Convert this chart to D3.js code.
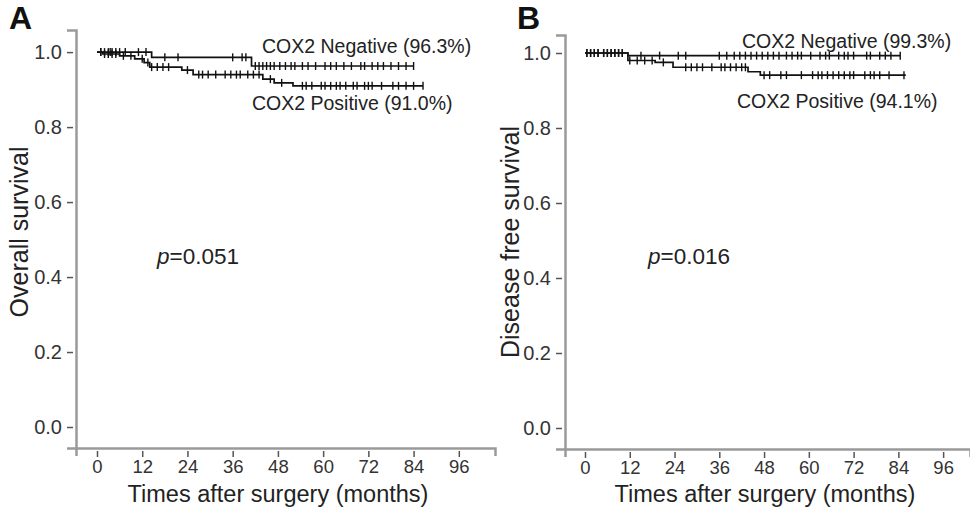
<!DOCTYPE html>
<html>
<head>
<meta charset="utf-8">
<script src="https://cdn.jsdelivr.net/npm/d3@7"></script>
<style>
  body { margin: 0; background: #fff; }
  svg { font-family: "Liberation Sans", Arial, sans-serif; }
</style>
</head>
<body>
<svg width="970" height="510"></svg>
<script>
// ---- data ----
const xTicks = [0, 12, 24, 36, 48, 60, 72, 84, 96];
const yTicks = [0.0, 0.2, 0.4, 0.6, 0.8, 1.0];

// Panel A: overall survival, steps as [month, survival]
const osNegSteps = [[0, 1.0], [14.5, 0.986], [41, 0.963], [84, 0.963]];
const osPosSteps = [[0, 1.0], [1.5, 0.995], [6, 0.99], [10, 0.982], [12.5, 0.972], [14, 0.96],
                    [22.5, 0.952], [25.5, 0.94], [44, 0.928], [47, 0.918], [52, 0.91], [86.5, 0.91]];
const osNegCensor = [1, 2, 3, 3.5, 4, 5, 6, 7.5, 11, 13, 18, 21.5, 36, 38.5, 39.5, 42, 43, 44, 45, 46,
                     47, 48.5, 50, 51.5, 52.5, 54.5, 56, 58, 60.5, 62, 63.5, 65.5, 67.5, 70, 71, 73,
                     74.5, 76, 78, 80, 82, 84];
const osPosCensor = [1, 2, 3, 4, 5, 7, 9, 12, 13.5, 14.5, 16, 17.5, 19, 24, 27, 28, 29.5, 31.5, 34,
                     35.5, 37, 38, 40, 41.5, 43, 46, 49, 54.5, 55.5, 57, 59.5, 60.5, 62, 63.5, 64.5,
                     66, 68, 69, 71, 72, 73, 75.5, 78.5, 80, 82, 84, 86.5];

// Panel B: disease free survival
const dfsNegSteps = [[0, 1.0], [11.5, 0.993], [84.5, 0.993]];
const dfsPosSteps = [[0, 1.0], [11.5, 0.98], [18.8, 0.975], [23.6, 0.962], [43.7, 0.95], [47, 0.941], [86, 0.941]];
const dfsNegCensor = [0.5, 1.5, 2.5, 3.5, 5, 6, 7, 8, 9, 10, 15, 20, 25, 27, 36, 38, 40, 41.5, 43,
                      44.5, 46, 47.5, 49, 50.5, 52, 54, 55.5, 57, 58, 60.5, 63, 64.5, 65.5, 68, 69.5,
                      70.5, 72, 75.5, 76.5, 79, 80.5, 82, 84.5];
const dfsPosCensor = [0.5, 1.5, 2.5, 3.5, 5, 6, 7, 8, 9, 10, 12, 14, 16, 18, 21, 27, 28.5, 30, 31.5,
                      34, 36.5, 37.5, 39, 40.5, 42, 43, 48, 49.5, 52.5, 54, 58, 61, 62.5, 63.5, 65,
                      66.5, 68, 69.5, 71, 72, 75, 76.5, 77.5, 79, 81.5, 85.5];

const panels = [
  {
    letter: "A", yTitle: "Overall survival", pText: "=0.051",
    negLabel: "COX2 Negative (96.3%)", posLabel: "COX2 Positive (91.0%)",
    neg: osNegSteps, pos: osPosSteps, negC: osNegCensor, posC: osPosCensor,
    xRange: [76, 495], xDom: [-5.57, 105.6], yRange: [448, 30], yDom: [-0.056, 1.059],
    letterX: 9, yTitleX: 28, yTitleY: 232, negLabelX: 262, negLabelY: 53, posLabelX: 252, posLabelY: 110,
    pX: 157, pY: 264, xTitleX: 278
  },
  {
    letter: "B", yTitle: "Disease free survival", pText: "=0.016",
    negLabel: "COX2 Negative (99.3%)", posLabel: "COX2 Positive (94.1%)",
    neg: dfsNegSteps, pos: dfsPosSteps, negC: dfsNegCensor, posC: dfsPosCensor,
    xRange: [565, 970], xDom: [-5.36, 103.2], yRange: [449, 35], yDom: [-0.056, 1.048],
    letterX: 517, yTitleX: 519, yTitleY: 242, negLabelX: 742, negLabelY: 48, posLabelX: 737, posLabelY: 108,
    pX: 648, pY: 264, xTitleX: 765
  }
];

const svg = d3.select("svg");

function survivalAt(steps, t) {
  let s = steps[0][1];
  steps.forEach(d => { if (d[0] <= t) s = d[1]; });
  return s;
}

panels.forEach(p => {
  const x = d3.scaleLinear().domain(p.xDom).range(p.xRange);
  const y = d3.scaleLinear().domain(p.yDom).range(p.yRange);
  const g = svg.append("g");

  // axes
  const xAxis = g.append("g")
    .attr("transform", `translate(0,${p.yRange[0]})`)
    .call(d3.axisBottom(x).tickValues(xTicks).tickSizeOuter(0).tickSize(8).tickPadding(4));
  const yAxis = g.append("g")
    .attr("transform", `translate(${p.xRange[0]},0)`)
    .call(d3.axisLeft(y).tickValues(yTicks).tickFormat(d3.format(".1f")).tickSizeOuter(0).tickSize(9).tickPadding(5));

  [xAxis, yAxis].forEach(a => {
    a.select(".domain").attr("stroke", "#9a9a9a").attr("stroke-width", 2.5);
    a.selectAll(".tick line").attr("stroke", "#555").attr("stroke-width", 1.5);
    a.selectAll(".tick text").attr("fill", "#333").attr("font-family", null);
  });
  yAxis.selectAll(".tick text").style("font-size", "20px");
  xAxis.selectAll(".tick text").style("font-size", "18.5px");
  yAxis.selectAll(".tick line").attr("x2", -9).attr("x1", -3);
  xAxis.selectAll(".tick line").attr("y1", 3).attr("y2", 9);

  // KM curves
  const line = d3.line().curve(d3.curveStepAfter).x(d => x(d[0])).y(d => y(d[1]));
  [[p.neg, p.negC], [p.pos, p.posC]].forEach(([steps, censor]) => {
    g.append("path")
      .attr("d", line(steps))
      .attr("fill", "none")
      .attr("stroke", "#111")
      .attr("stroke-width", 1.7);
    g.append("g").selectAll("line")
      .data(censor)
      .join("line")
      .attr("x1", d => x(d)).attr("x2", d => x(d))
      .attr("y1", d => y(survivalAt(steps, d)) - 4)
      .attr("y2", d => y(survivalAt(steps, d)) + 4)
      .attr("stroke", "#111")
      .attr("stroke-width", 1.4);
  });

  // labels
  g.append("text")
    .attr("x", p.letterX).attr("y", 29)
    .style("font-size", "32px").style("font-weight", "bold")
    .attr("fill", "#111")
    .text(p.letter);

  g.append("text")
    .attr("transform", `translate(${p.yTitleX},${p.yTitleY}) rotate(-90)`)
    .attr("text-anchor", "middle")
    .style("font-size", "25px")
    .attr("fill", "#222")
    .text(p.yTitle);

  g.append("text")
    .attr("x", p.xTitleX).attr("y", 502)
    .attr("text-anchor", "middle")
    .style("font-size", "23.5px")
    .attr("fill", "#222")
    .text("Times after surgery (months)");

  g.append("text")
    .attr("x", p.negLabelX).attr("y", p.negLabelY)
    .style("font-size", "19.5px")
    .attr("fill", "#222")
    .text(p.negLabel);

  g.append("text")
    .attr("x", p.posLabelX).attr("y", p.posLabelY)
    .style("font-size", "19.5px")
    .attr("fill", "#222")
    .text(p.posLabel);

  const pt = g.append("text")
    .attr("x", p.pX).attr("y", p.pY)
    .style("font-size", "22.5px")
    .attr("fill", "#222");
  pt.append("tspan").style("font-style", "italic").text("p");
  pt.append("tspan").text(p.pText);
});
</script>
</body>
</html>
